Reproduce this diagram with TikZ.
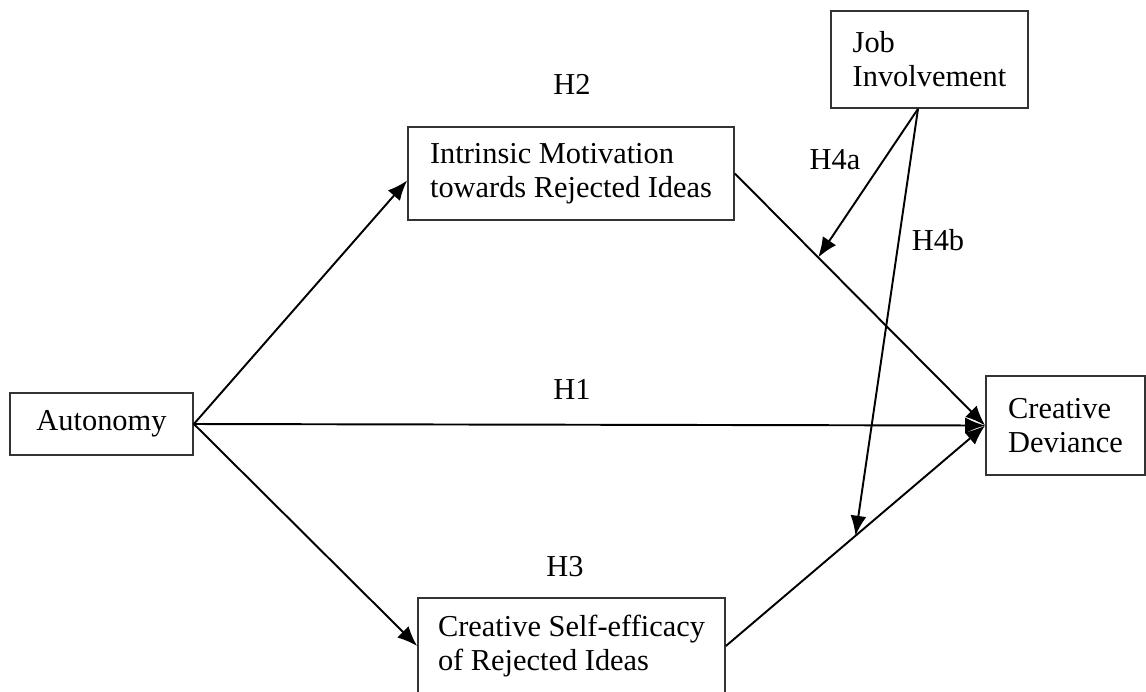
\documentclass[tikz,border=0pt]{standalone}
\usepackage{fontspec}
\setmainfont{Liberation Serif}
\usetikzlibrary{arrows.meta,positioning,calc}

\begin{document}
\begin{tikzpicture}[x=0.02cm,y=-0.02cm,
    every node/.style={font=\fontsize{17.3}{19.4}\selectfont},
    block/.style={draw=black!80,line width=1pt,rectangle,align=left},
    link/.style={line width=1.1pt,-{Latex[length=0.4cm,width=0.32cm]}}]
   \clip (0,0) rectangle (1146,691);
   \node[block,minimum width=3.66cm,minimum height=1.24cm,align=center] (auto) at (101.5,424) {Autonomy};
   \node[block,minimum width=6.52cm,minimum height=1.86cm] (intr) at (571,173.5) {Intrinsic Motivation\\towards Rejected Ideas};
   \node[block,minimum width=3.94cm,minimum height=1.94cm] (job) at (929.5,59.5) {Job\\Involvement};
   \node[block,minimum width=3.18cm,minimum height=1.98cm] (dev) at (1065.5,425.5) {Creative\\Deviance};
   \node[block,minimum width=6.14cm,minimum height=1.92cm] (self) at (571.5,646) {Creative Self-efficacy\\of Rejected Ideas};
   % hypothesis labels
   \node (h2) at (572,84) {H2};
   \node (h1) at (572,389) {H1};
   \node (h3) at (565,567) {H3};
   \node (h4a) at (835,160) {H4a};
   \node (h4b) at (938,240) {H4b};
   % moderated paths
   \coordinate (m_a) at ($(intr.east)!0.333!(dev.west)$);
   \coordinate (m_b) at ($(self.east)!0.5!(dev.west)$);
   \coordinate (jobfoot) at ([xshift=-0.23cm]job.south);
    \path[link]
    (auto.east)
       edge ([yshift=-0.14cm]intr.west)
       edge (dev.west)
       edge (self.west)
    (intr.east)
       edge (dev.west)
    (self.east)
       edge (dev.west)
    (jobfoot)
       edge (m_a)
       edge (m_b);
\end{tikzpicture}
\end{document}
